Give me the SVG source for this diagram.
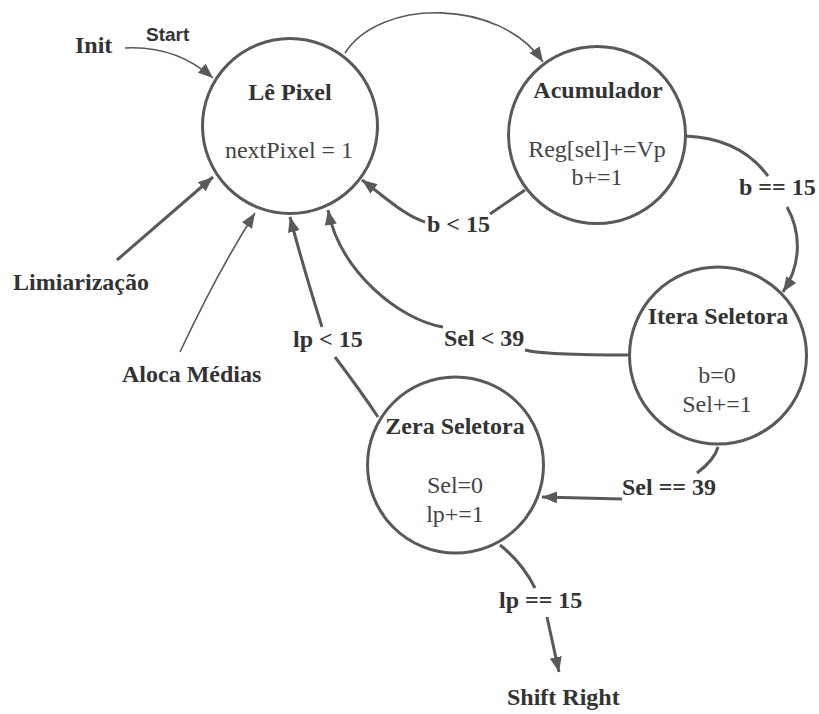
<svg xmlns="http://www.w3.org/2000/svg" width="819" height="714" viewBox="0 0 819 714">
  <style>
    .state { fill: #ffffff; stroke: #595959; stroke-width: 3; }
    .title { font-family: "Liberation Serif", "Times New Roman", serif; font-size: 24px; font-weight: bold; fill: #333333; text-anchor: middle; }
    .body { font-family: "Liberation Serif", "Times New Roman", serif; font-size: 24px; fill: #444444; text-anchor: middle; }
    .label { font-family: "Liberation Serif", "Times New Roman", serif; font-size: 24px; font-weight: bold; fill: #333333; }
    .start { font-family: "Liberation Sans", Arial, sans-serif; font-size: 19px; font-weight: bold; fill: #333333; }
    .thin { fill: none; stroke: #595959; stroke-width: 1.6; }
    .thick { fill: none; stroke: #595959; stroke-width: 3; }
  </style>
  <defs>
    <marker id="arrow" markerUnits="userSpaceOnUse" markerWidth="16" markerHeight="12" refX="15" refY="6" orient="auto">
      <path d="M0,0 L15,6 L0,12 z" fill="#595959"/>
    </marker>
  </defs>
  <rect width="819" height="714" fill="#ffffff"/>

  <!-- transitions -->
  <g id="connectors">
    <path class="thin" d="M125,48 C160,46 190,58 213,78" marker-end="url(#arrow)"/>
    <path class="thin" d="M345,53 C380,-2 500,-2 543,62" marker-end="url(#arrow)"/>
    <!-- b < 15 -->
    <path class="thick" d="M525,190 L490,214"/>
    <path class="thick" d="M425,222 C405,216 385,197 362,180" marker-end="url(#arrow)"/>
    <!-- b == 15 -->
    <path class="thick" d="M685,136 Q740,138 768,176"/>
    <path class="thick" d="M787,207 C800,230 803,262 783,292" marker-end="url(#arrow)"/>
    <!-- Sel < 39 -->
    <path class="thick" d="M629,355 C580,355 540,354 525,350"/>
    <path class="thick" d="M443,327 C400,320 340,272 328,210" marker-end="url(#arrow)"/>
    <!-- Sel == 39 -->
    <path class="thick" d="M718,447 C715,458 705,467 697,473"/>
    <path class="thick" d="M622,499 L542,497" marker-end="url(#arrow)"/>
    <!-- lp < 15 -->
    <path class="thick" d="M378,417 Q360,390 335,357"/>
    <path class="thick" d="M322,327 C312,295 300,255 290,217" marker-end="url(#arrow)"/>
    <!-- inputs into Lê Pixel -->
    <path class="thick" d="M117,260 L213,177" marker-end="url(#arrow)"/>
    <path class="thin" d="M180,352 C195,320 225,260 255,213" marker-end="url(#arrow)"/>
    <!-- lp == 15 -->
    <path class="thick" d="M500,545 C515,557 527,572 535,588"/>
    <path class="thick" d="M547,617 L559,672" marker-end="url(#arrow)"/>
  </g>

  <g id="le-pixel">
    <circle class="state" cx="290" cy="126" r="87.5"/>
    <text class="title" x="290" y="100">Lê Pixel</text>
    <text class="body" x="289" y="158">nextPixel = 1</text>
  </g>

  <g id="acumulador">
    <circle class="state" cx="597" cy="135" r="88.5"/>
    <text class="title" x="598" y="98">Acumulador</text>
    <text class="body" x="597" y="157">Reg[sel]+=Vp</text>
    <text class="body" x="597" y="185">b+=1</text>
  </g>

  <g id="itera-seletora">
    <circle class="state" cx="718" cy="355.5" r="88.5"/>
    <text class="title" x="718" y="324">Itera Seletora</text>
    <text class="body" x="717" y="383">b=0</text>
    <text class="body" x="717" y="412">Sel+=1</text>
  </g>

  <g id="zera-seletora">
    <circle class="state" cx="455.5" cy="465" r="88"/>
    <text class="title" x="455" y="434">Zera Seletora</text>
    <text class="body" x="455" y="493">Sel=0</text>
    <text class="body" x="455" y="522">lp+=1</text>
  </g>

  <g id="init">
    <text class="label" x="75" y="53">Init</text>
    <text class="start" x="146" y="41">Start</text>
  </g>
  <g id="limiarizacao">
    <text class="label" x="13" y="290">Limiarização</text>
  </g>
  <g id="aloca-medias">
    <text class="label" x="122" y="382">Aloca Médias</text>
  </g>
  <g id="shift-right">
    <text class="label" x="507" y="705">Shift Right</text>
  </g>

  <g id="transition-labels">
    <text class="label" x="427" y="232">b &lt; 15</text>
    <text class="label" x="739" y="195">b == 15</text>
    <text class="label" x="444" y="346">Sel &lt; 39</text>
    <text class="label" x="622" y="495">Sel == 39</text>
    <text class="label" x="293" y="347">lp &lt; 15</text>
    <text class="label" x="499" y="608">lp == 15</text>
  </g>
</svg>
